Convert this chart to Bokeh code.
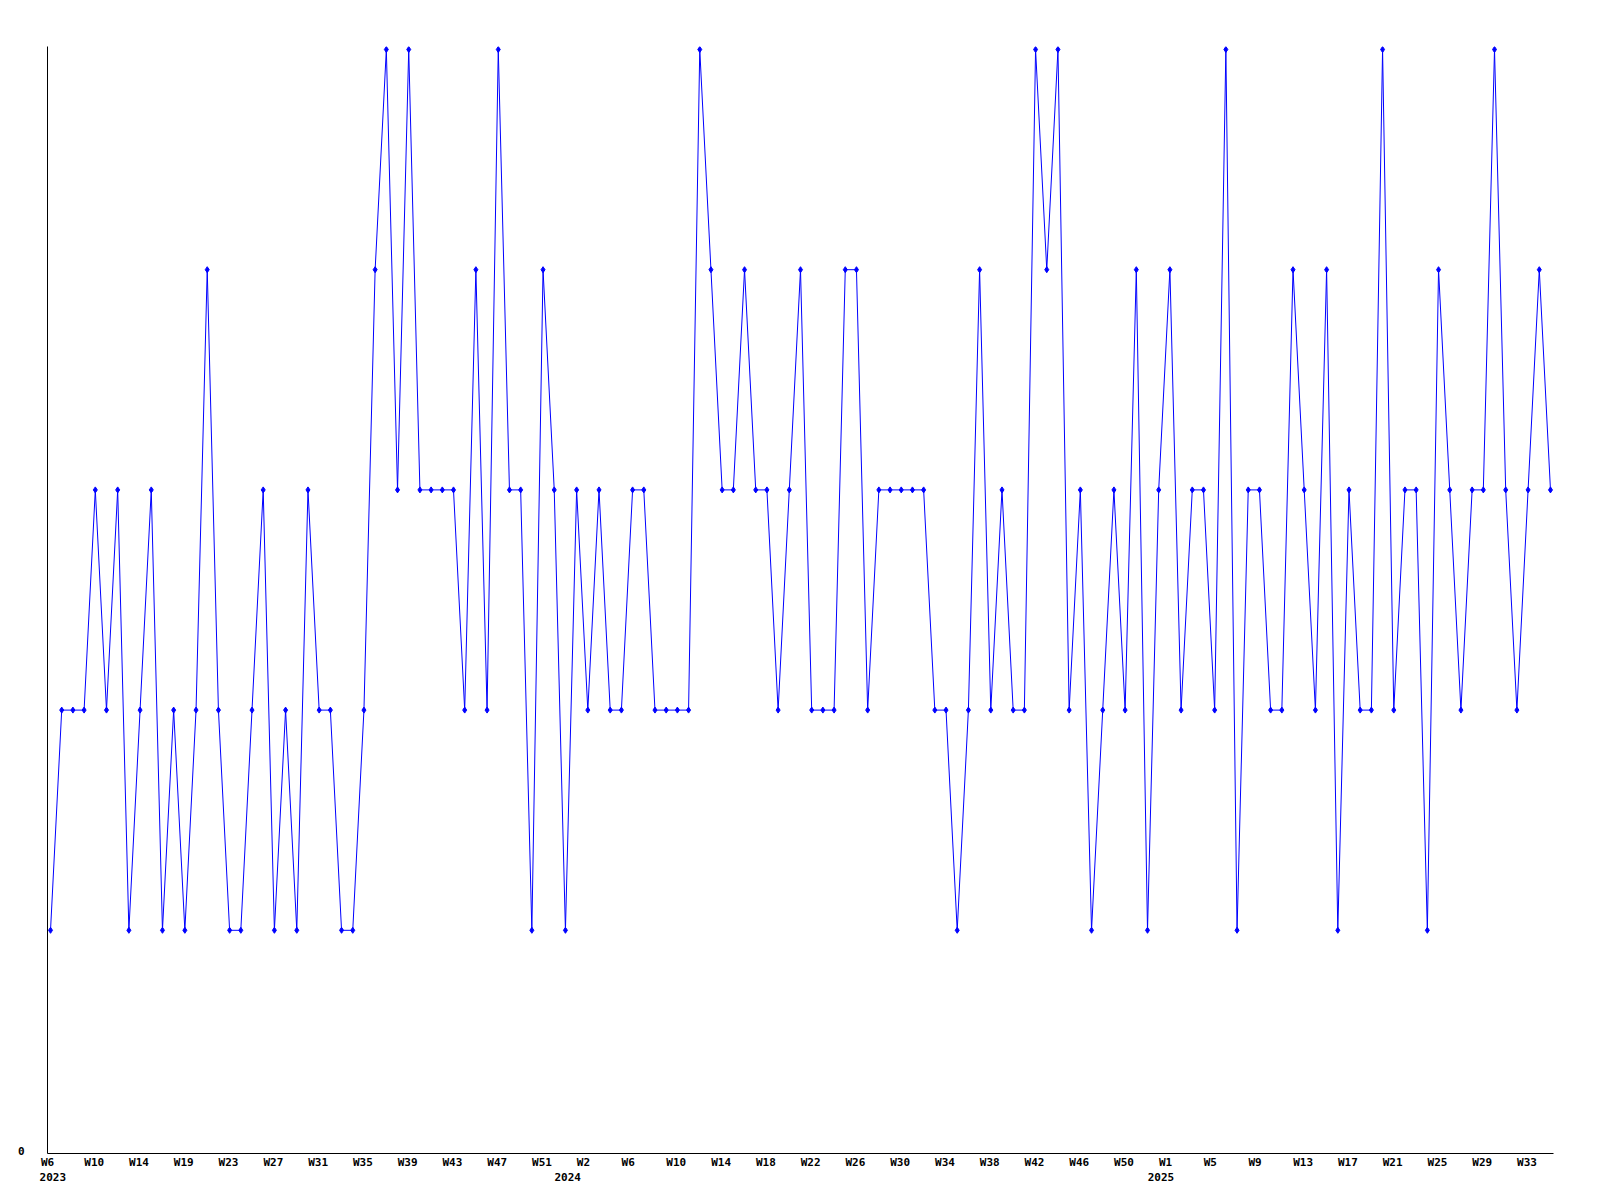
from bokeh.plotting import figure
from bokeh.models import FixedTicker, LinearAxis, Range1d
from bokeh.embed import file_html
from bokeh.resources import INLINE

# weekly values (one per week, from 2023 W6 onwards)
values = [1, 2, 2, 2, 3, 2, 3, 1, 2, 3,
          1, 2, 1, 2, 4, 2, 1, 1, 2, 3,
          1, 2, 1, 3, 2, 2, 1, 1, 2, 4,
          5, 3, 5, 3, 3, 3, 3, 2, 4, 2,
          5, 3, 3, 1, 4, 3, 1, 3, 2, 3,
          2, 2, 3, 3, 2, 2, 2, 2, 5, 4,
          3, 3, 4, 3, 3, 2, 3, 4, 2, 2,
          2, 4, 4, 2, 3, 3, 3, 3, 3, 2,
          2, 1, 2, 4, 2, 3, 2, 2, 5, 4,
          5, 2, 3, 1, 2, 3, 2, 4, 1, 3,
          4, 2, 3, 3, 2, 5, 1, 3, 3, 2,
          2, 4, 3, 2, 4, 1, 3, 2, 2, 5,
          2, 3, 3, 1, 4, 3, 2, 3, 3, 5,
          3, 2, 3, 4, 3]
week_index = list(range(len(values)))

# x tick labels (one every 4 points)
week_labels = ["W6", "W10", "W14", "W19", "W23", "W27", "W31", "W35", "W39", "W43", "W47", "W51",
               "W2", "W6", "W10", "W14", "W18", "W22", "W26", "W30", "W34", "W38", "W42", "W46", "W50",
               "W1", "W5", "W9", "W13", "W17", "W21", "W25", "W29", "W33"]
week_tick_index = list(range(0, 4 * len(week_labels), 4))

year_labels = ["2023", "2024", "2025"]
year_tick_index = [0, 46, 99]

y_tick_values = [0]
y_tick_labels = ["0"]

FONT = "DejaVu Sans Mono"
FONT_PX = 11
CHAR_W = 0.602 * FONT_PX      # advance width of the mono font
BLUE = "#0000ff"

n = len(values)
xpad = 0.27
ypad = 0.0136
FRAME_W = 1506
FRAME_H = 1107
x_start, x_end = -xpad, (n - 1) + xpad
px_per_idx = FRAME_W / (x_end - x_start)

p = figure(width=1598, height=1198,
           x_range=Range1d(x_start, x_end),
           y_range=Range1d(-ypad, 5 + ypad),
           output_backend="svg", toolbar_location=None,
           min_border_left=47, min_border_top=46,
           min_border_right=1598 - 47 - FRAME_W, min_border_bottom=1198 - 46 - FRAME_H)

p.xgrid.visible = False
p.ygrid.visible = False
p.outline_line_color = None
p.background_fill_color = "white"
p.border_fill_color = "white"


def style_axis(ax, standoff):
    ax.major_tick_line_color = None
    ax.minor_tick_line_color = None
    ax.major_tick_out = 0
    ax.major_tick_in = 0
    ax.minor_tick_out = 0
    ax.minor_tick_in = 0
    ax.major_label_text_font = FONT
    ax.major_label_text_font_style = "bold"
    ax.major_label_text_font_size = f"{FONT_PX}px"
    ax.major_label_text_color = "black"
    ax.major_label_standoff = standoff


def left_aligned(ticks, labels):
    # labels start 11px left of their tick, like the original
    out = {}
    for t, lab in zip(ticks, labels):
        pos = t + (-11 + CHAR_W * len(lab) / 2) / px_per_idx
        pos = round(max(pos, x_start + 0.001), 4)
        out[pos] = lab
    return out


# bottom axis: week labels
week_map = left_aligned(week_tick_index, week_labels)
xa = p.xaxis[0]
xa.ticker = FixedTicker(ticks=list(week_map.keys()))
xa.major_label_overrides = week_map
xa.axis_line_color = "black"
xa.axis_line_width = 1
style_axis(xa, 2)

# second row: years
year_map = left_aligned(year_tick_index, year_labels)
ya2 = LinearAxis(ticker=FixedTicker(ticks=list(year_map.keys())),
                 major_label_overrides=year_map)
ya2.axis_line_color = None
style_axis(ya2, 1)
p.add_layout(ya2, "below")

# left axis
ya = p.yaxis[0]
ya.ticker = FixedTicker(ticks=y_tick_values)
ya.major_label_overrides = {t: lab for t, lab in zip(y_tick_values, y_tick_labels)}
ya.axis_line_color = "black"
style_axis(ya, 23)

p.line(week_index, values, line_color=BLUE, line_width=1)
p.scatter(week_index, values, marker="diamond", size=6,
          fill_color=BLUE, line_color=BLUE, line_width=1)

open("out.html", "w").write(file_html(p, INLINE))
